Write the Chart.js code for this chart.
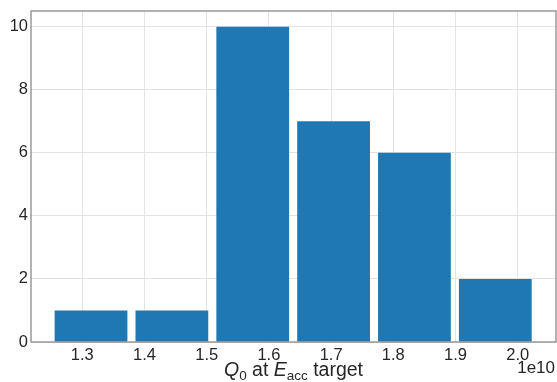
<!DOCTYPE html>
<html>
<head>
<meta charset="utf-8">
<script src="https://cdn.jsdelivr.net/npm/chart.js@4"></script>
<style>
  html, body { margin: 0; padding: 0; background: #fff; }
  #wrap { width: 557px; height: 382px; }
</style>
</head>
<body>
<div id="wrap"><canvas id="myChart" width="557" height="382"></canvas></div>
<script>
// histogram bins (centres, in units of 1e10) and counts
var binCenters = [1.314, 1.444, 1.574, 1.704, 1.834, 1.964];
var binWidth = 0.13;
var counts = [1, 1, 10, 7, 6, 2];
var xTicks = [1.3, 1.4, 1.5, 1.6, 1.7, 1.8, 1.9, 2.0];
var yTicks = [0, 2, 4, 6, 8, 10];

var FONT = '"Liberation Sans", Arial, sans-serif';
var TEXT = '#262626';

var points = binCenters.map(function (c, i) { return { x: c, y: counts[i] }; });

// frame + xlabel + offset text
var extras = {
    id: 'extras',
    afterDraw: function (chart) {
        var ctx = chart.ctx;
        var a = chart.chartArea;
        ctx.save();
        ctx.strokeStyle = '#808080';
        ctx.lineWidth = 1.2;
        ctx.strokeRect(a.left, a.top, a.right - a.left, a.bottom - a.top);

        // x axis label: Q_0 at E_acc target
        var parts = [
            { t: 'Q', f: 'italic 19.5px ' + FONT, dy: 0 },
            { t: '0', f: '13.5px ' + FONT, dy: 4 },
            { t: ' at ', f: '19.5px ' + FONT, dy: 0 },
            { t: 'E', f: 'italic 19.5px ' + FONT, dy: 0 },
            { t: 'acc', f: '13.5px ' + FONT, dy: 4 },
            { t: ' target', f: '19.5px ' + FONT, dy: 0 }
        ];
        var total = 0;
        parts.forEach(function (p) { ctx.font = p.f; p.w = ctx.measureText(p.t).width; total += p.w; });
        var x = (a.left + a.right) / 2 - total / 2;
        var base = 376;
        ctx.fillStyle = TEXT;
        ctx.textBaseline = 'alphabetic';
        ctx.textAlign = 'left';
        parts.forEach(function (p) {
            ctx.font = p.f;
            ctx.fillText(p.t, x, base + p.dy);
            x += p.w;
        });

        ctx.font = '17px ' + FONT;
        ctx.textAlign = 'right';
        ctx.fillText('1e10', a.right - 1, 373);
        ctx.restore();
    }
};

var ctx = document.getElementById('myChart').getContext('2d');
var myChart = new Chart(ctx, {
    type: 'bar',
    data: {
        datasets: [{
            data: points,
            backgroundColor: '#1f77b4',
            borderWidth: 0,
            // Chart.js sizes bars off the tick spacing (0.1) here, so scale to the bin width
            barPercentage: 0.9 * binWidth / 0.1,
            categoryPercentage: 1.0
        }]
    },
    options: {
        responsive: false,
        animation: false,
        layout: { padding: { top: 11, right: 1, left: 0, bottom: 0 } },
        plugins: { legend: { display: false }, tooltip: { enabled: false } },
        scales: {
            x: {
                type: 'linear',
                offset: false,
                min: 1.2175,
                max: 2.0616,
                afterBuildTicks: function (scale) {
                    scale.ticks = xTicks.map(function (v) { return { value: v }; });
                },
                afterFit: function (scale) {
                    scale.height = 40;
                    scale.paddingLeft = 0;
                    scale.paddingRight = 0;
                },
                grid: { color: '#e3e3e3', drawTicks: false, offset: false },
                border: { display: false },
                ticks: {
                    padding: 4,
                    color: TEXT,
                    font: { family: FONT, size: 16.5 },
                    callback: function (v) { return v.toFixed(1); }
                }
            },
            y: {
                min: 0,
                max: 10.5,
                afterBuildTicks: function (scale) {
                    scale.ticks = yTicks.map(function (v) { return { value: v }; });
                },
                afterFit: function (scale) {
                    scale.width = 31;
                    scale.paddingTop = 0;
                    scale.paddingBottom = 0;
                },
                grid: { color: '#e3e3e3', drawTicks: false },
                border: { display: false },
                ticks: {
                    padding: 3,
                    color: TEXT,
                    font: { family: FONT, size: 16.5 }
                }
            }
        }
    },
    plugins: [extras]
});
</script>
</body>
</html>
